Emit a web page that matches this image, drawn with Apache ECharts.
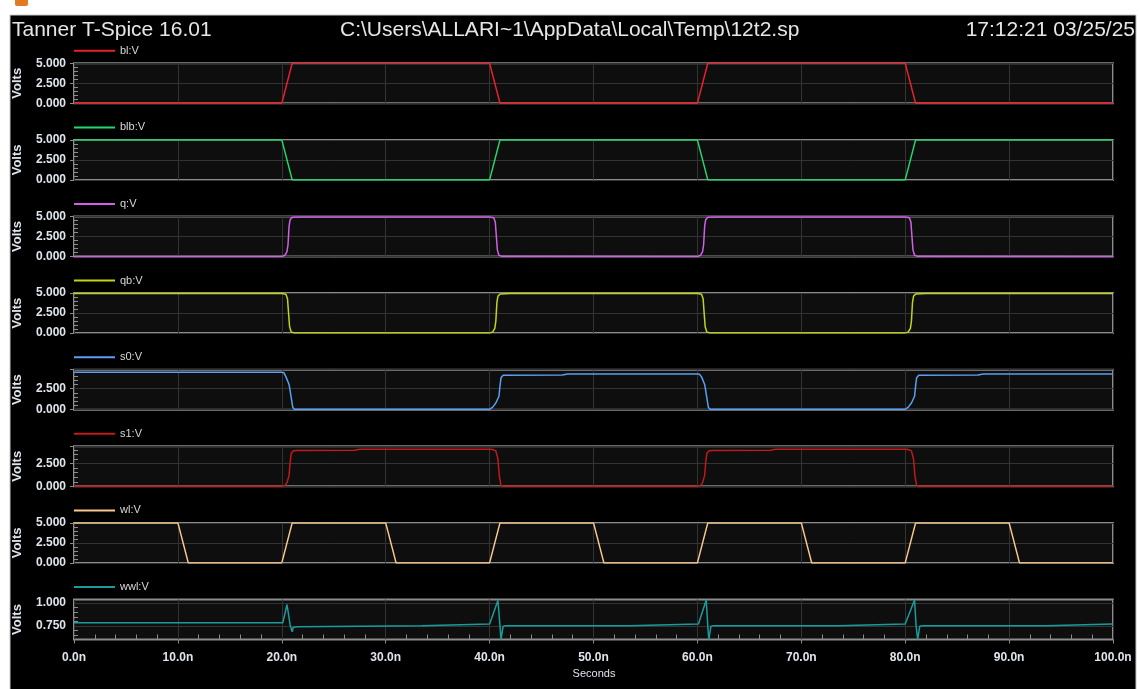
<!DOCTYPE html>
<html>
<head>
<meta charset="utf-8">
<script src="https://cdn.jsdelivr.net/npm/echarts@6/dist/echarts.min.js"></script>
<style>
html, body { margin: 0; padding: 0; background: #fff; }
#chart { width: 1140px; height: 689px; }
</style>
</head>
<body>
<div id="chart"></div>
<script>
// time in ns, value in volts
var bl = [[0,0],[20,0],[21,5],[40,5],[41,0],[60,0],[61,5],[80,5],[81,0],[100,0]];
var blb = [[0,5],[20,5],[21,0],[40,0],[41,5],[60,5],[61,0],[80,0],[81,5],[100,5]];
var q = [[0,0],[20,0],[20.3,0.15],[20.5,0.6],[20.6,1.5],[20.7,3.8],[20.8,4.6],[21,4.9],[22,4.95],[40,4.95],[40.4,4.85],[40.55,4.3],[40.65,2.5],[40.75,0.8],[40.9,0.15],[41.2,0.02],
         [60,0],[60.3,0.15],[60.5,0.6],[60.6,1.5],[60.7,3.8],[60.8,4.6],[61,4.9],[62,4.95],[80,4.95],[80.4,4.85],[80.55,4.3],[80.65,2.5],[80.75,0.8],[80.9,0.15],[81.2,0.02],[100,0]];
var qb = [[0,4.95],[20,4.95],[20.4,4.85],[20.55,4.3],[20.65,2.5],[20.75,0.8],[20.9,0.15],[21.2,0.02],[40,0],[40.3,0.15],[40.5,0.6],[40.6,1.5],[40.7,3.8],[40.8,4.6],[41,4.9],[42,4.95],
          [60,4.95],[60.4,4.85],[60.55,4.3],[60.65,2.5],[60.75,0.8],[60.9,0.15],[61.2,0.02],[80,0],[80.3,0.15],[80.5,0.6],[80.6,1.5],[80.7,3.8],[80.8,4.6],[81,4.9],[82,4.95],[100,4.95]];
var s0 = [[0,4.45],[20,4.45],[20.2,4.4],[20.4,3.9],[20.7,3.0],[20.9,1.5],[21.05,0.3],[21.2,0.05],[40,0.05],[40.3,0.3],[40.6,0.8],[40.9,1.6],[41,2.8],[41.1,3.8],[41.3,4.1],[47,4.13],[47.5,4.25],
          [60,4.25],[60.2,4.2],[60.4,3.9],[60.7,3.0],[60.9,1.5],[61.05,0.3],[61.2,0.05],[80,0.05],[80.3,0.3],[80.6,0.8],[80.9,1.6],[81,2.8],[81.1,3.8],[81.3,4.1],[87,4.13],[87.5,4.25],[100,4.25]];
var s1 = [[0,0],[20,0],[20.3,0.1],[20.5,0.4],[20.7,1.2],[20.8,2.6],[20.9,3.6],[21.1,3.9],[21.5,3.95],[27,3.97],[27.5,4.08],[40,4.08],[40.3,4.05],[40.6,3.9],[40.8,3.0],[40.95,1.0],[41.1,0.1],[41.3,0],
          [60,0],[60.3,0.1],[60.5,0.4],[60.7,1.2],[60.8,2.6],[60.9,3.6],[61.1,3.9],[61.5,3.95],[67,3.97],[67.5,4.08],[80,4.08],[80.3,4.05],[80.6,3.9],[80.8,3.0],[80.95,1.0],[81.1,0.1],[81.3,0],[100,0]];
var wl = [[0,5],[10,5],[11,0],[20,0],[21,5],[30,5],[31,0],[40,0],[41,5],[50,5],[51,0],[60,0],[61,5],[70,5],[71,0],[80,0],[81,5],[90,5],[91,0],[100,0]];
var wwl = [[0,0.785],[20.1,0.785],[20.5,0.985],[20.8,0.76],[21,0.685],[21.1,0.735],[21.5,0.74],[21.6,0.75],[33.5,0.75],[33.6,0.77],
           [40,0.77],[40.8,1.03],[41,0.75],[41.1,0.6],[41.3,0.745],[41.6,0.75],[53.5,0.75],[53.6,0.77],
           [60.1,0.77],[60.85,1.035],[61,0.75],[61.1,0.6],[61.3,0.745],[61.6,0.75],[73.6,0.75],[73.7,0.77],
           [80,0.77],[80.9,1.035],[81.05,0.75],[81.2,0.6],[81.4,0.745],[81.7,0.75],[93.6,0.75],[93.7,0.77],[100,0.77]];

var names = ['bl:V', 'blb:V', 'q:V', 'qb:V', 's0:V', 's1:V', 'wl:V', 'wwl:V'];
var signals = [bl, blb, q, qb, s0, s1, wl, wwl];
var colors = ['#e8202a', '#22d86a', '#d060e8', '#c4d414', '#5a9ff0', '#c01a1a', '#f8c88c', '#1a9c9c'];
var yMax = [5, 5, 5, 5, 4.75, 4.4, 5, 1.04];
// labelled volt ticks per panel
var yLabels = [[0, 2.5, 5], [0, 2.5, 5], [0, 2.5, 5], [0, 2.5, 5], [0, 2.5], [0, 2.5], [0, 2.5, 5], [0.75, 1.0]];

var txt = '#dfe5ec';
var font = 'Arial, "Liberation Sans", sans-serif';
var plotLeft = 74, plotRight = 27, top0 = 63.3, step = 76.6, ph = 40;

// index 0 is an empty hidden grid, the real panels are 1..8
var grids = [{left: 0, top: 0, width: 1, height: 1, show: false}];
var xAxes = [{type: 'value', gridIndex: 0, show: false}];
var yAxes = [{type: 'value', gridIndex: 0, show: false}];
var series = [], legends = [];
for (var i = 0; i < 8; i++) {
    var panelTop = top0 + i * step;
    var last = (i === 7);
    var g = i + 1;
    grids.push({
        left: plotLeft, right: plotRight, top: panelTop, height: ph,
        show: true, backgroundColor: '#0e0e0e', borderColor: '#8c8c8c', borderWidth: 2
    });
    xAxes.push({
        type: 'value', gridIndex: g, min: 0, max: 100, interval: 10,
        axisLine: {show: false},
        axisTick: {show: last, length: 4, lineStyle: {color: '#8c8c8c', width: 1}},
        minorTick: {show: last, splitNumber: 5, length: -5, lineStyle: {color: '#8c8c8c', width: 1}},
        splitLine: {show: true, lineStyle: {color: '#333', width: 1}},
        axisLabel: {
            show: last, color: txt, fontSize: 12, fontWeight: 'bold', fontFamily: font, margin: 12,
            formatter: function (v) { return v.toFixed(1) + 'n'; }
        }
    });
    var y = {
        type: 'value', gridIndex: g, min: 0, max: yMax[i], interval: 2.5,
        axisLine: {show: false},
        axisTick: {show: true, length: 4, lineStyle: {color: '#8c8c8c', width: 1}},
        minorTick: {show: true, splitNumber: 5, length: -4, lineStyle: {color: '#8c8c8c', width: 1}},
        splitLine: {show: true, lineStyle: {color: '#333', width: 1}},
        axisLabel: {
            customValues: yLabels[i], hideOverlap: false, interval: 0, lineHeight: 12,
            showMinLabel: true, showMaxLabel: true,
            color: txt, fontSize: 12, fontWeight: 'bold', fontFamily: font, margin: 8,
            formatter: function (v) { return v.toFixed(3); }
        },
        name: 'Volts', nameLocation: 'middle', nameRotate: 90, nameGap: 50,
        nameTextStyle: {color: txt, fontSize: 13, fontWeight: 'bold', fontFamily: font}
    };
    if (last) {
        y.min = 0.6;
        y.interval = 0.05;
        y.axisTick = {show: true, inside: true, length: 4, lineStyle: {color: '#8c8c8c', width: 1}};
        y.minorTick = {show: false};
        y.splitLine = {show: false};
    }
    yAxes.push(y);
    var s = {
        name: names[i], type: 'line', xAxisIndex: g, yAxisIndex: g,
        data: signals[i], symbol: 'none', color: colors[i],
        lineStyle: {width: 1.5, color: colors[i]}, animation: false
    };
    if (last) {
        s.markLine = {
            silent: true, symbol: 'none', z: 1, label: {show: false}, animation: false,
            lineStyle: {color: '#333', width: 1, type: 'solid'},
            data: yLabels[i].map(function (v) { return {yAxis: v}; })
        };
    }
    series.push(s);
    legends.push({
        data: [names[i]], left: plotLeft, top: panelTop - 18, padding: 0,
        icon: 'rect', itemWidth: 41, itemHeight: 2, itemGap: 5,
        textStyle: {color: '#d8d8d8', fontSize: 11, fontFamily: font}
    });
}

var chart = echarts.init(document.getElementById('chart'));
chart.setOption({
    backgroundColor: '#ffffff',
    animation: false,
    title: [
        {text: 'Tanner T-Spice 16.01', left: 12, top: 20, padding: 0,
            textStyle: {color: '#e6e6e6', fontSize: 21, fontWeight: 'normal', fontFamily: font}},
        {text: 'C:\\Users\\ALLARI~1\\AppData\\Local\\Temp\\12t2.sp', left: 340, top: 20, padding: 0,
            textStyle: {color: '#e6e6e6', fontSize: 21, fontWeight: 'normal', fontFamily: font}},
        {text: '17:12:21 03/25/25', right: 5, top: 20, padding: 0,
            textStyle: {color: '#e6e6e6', fontSize: 21, fontWeight: 'normal', fontFamily: font}}
    ],
    graphic: {
        elements: [
            {type: 'rect', z: -10, shape: {x: 10, y: 15, width: 1126, height: 680},
                style: {fill: '#000', stroke: '#c8c8c8', lineWidth: 1}},
            {type: 'rect', z: -10, shape: {x: 15, y: -4, width: 13, height: 10, r: 2},
                style: {fill: '#e07b22'}},
            // x axis title
            {type: 'text', x: 594, y: 674, z: 10,
                style: {text: 'Seconds', fill: txt, font: '11px ' + font, align: 'center', verticalAlign: 'middle'}}
        ]
    },
    legend: legends,
    grid: grids,
    xAxis: xAxes,
    yAxis: yAxes,
    series: series
});
</script>
</body>
</html>
